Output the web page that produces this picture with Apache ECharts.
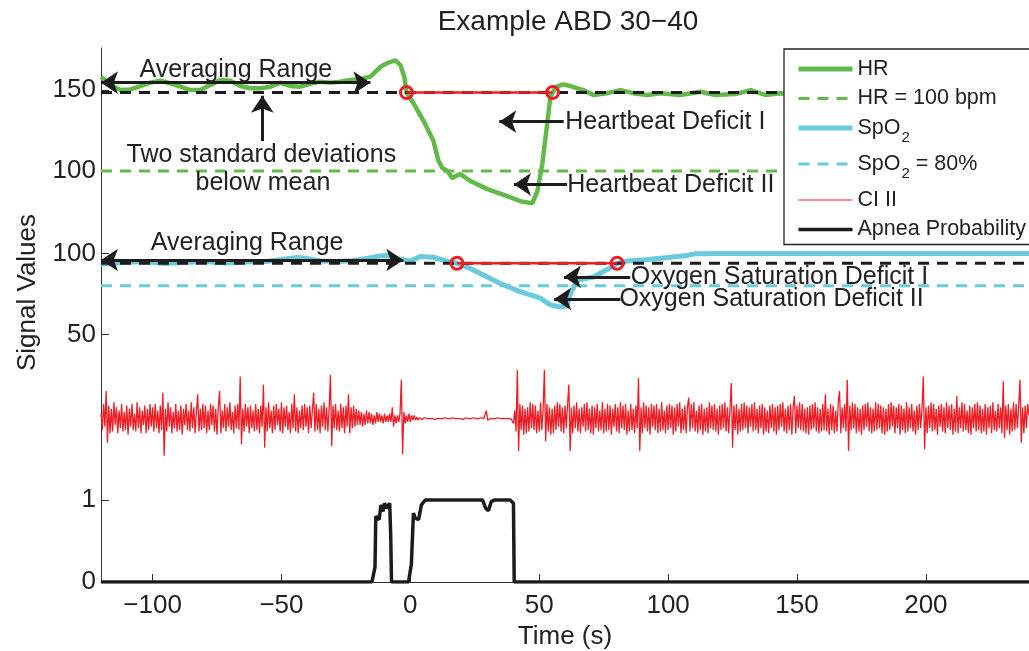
<!DOCTYPE html>
<html><head><meta charset="utf-8">
<script src="https://cdn.jsdelivr.net/npm/echarts@6/dist/echarts.min.js"></script>
<style>html,body{margin:0;padding:0;background:#fff}#c{width:1029px;height:651px}</style>
</head><body><div id="c"></div>
<script>
const FONT = "'Liberation Sans', Arial, Helvetica, sans-serif";

// ---- Heart rate (bpm) ----
const hrTime = [-120,-116.4,-112.5,-108.6,-104.7,-100.9,-97,-93.1,-89.2,-85.3,-81.5,-77.6,-73.7,-69.8,-65.9,-62.1,-58.2,-54.3,-50.4,-46.5,-42.7,-38.8,-34.9,-31,-27.2,-23.3,-19.4,-15.5,-11.6,-8.5,-5.8,-3.9,-2.3,-1.5,1.2,5,8.9,10.9,12.4,14.4,16.3,17.8,19.4,23.3,29.9,37.6,42.7,47.3,49.3,51.2,53.1,54.3,55.2,56.6,59.3,62.1,67.1,71,76.4,81.5,86.5,91.9,97,104.7,112.5,118.3,126,132,137.7,143.5,150,165,180,195,210,225,240];
const hrValue = [158.3,153.1,150,150.4,152.5,154.6,155.8,154.2,152.1,150,150,153.1,156.3,155.8,152.5,151.1,151.1,152.1,154.6,152.5,152.1,153.8,155.2,154.6,155.2,156.3,156.7,158.3,164.4,167,168.3,165.6,158,148.5,141.9,131.3,118.8,106.3,101.9,100,95.6,97,98.1,93.8,88.8,84.4,81.3,80,87.5,104.4,129.4,145.6,148.5,152,153.5,152.5,150,146.9,148.1,150,148.1,146.9,148,147,149,147,147.5,150,147,148,147.5,149,147,148.5,147.5,149,148];

// ---- SpO2 (%) ----
const spo2Time = [-120,-112,-104,-96,-88,-80,-72,-64,-56,-50,-44,-40,-35,-28,-22,-17,-12,-9,-5,0,3.9,8.9,14.2,18.1,22,27.2,34.9,42.7,50.4,54.3,58.2,60.8,62.1,64.7,71,76.3,80.2,84.1,91.2,100,107.1,110.4,120,150,180,210,240];
const spo2Value = [93.3,94.5,95.1,93.9,94.5,95.1,94.2,94.8,95.1,96.3,97.6,97,95.4,95.1,95.7,97,98.5,98.8,96.8,95.3,98.2,97.7,95.3,94,91.6,87.6,81.5,76.4,72.4,68.3,66.9,67.7,75.4,83.5,85.5,90.1,93.8,95.3,96.2,97.6,98.8,99.8,100,100,100,100,100];

// ---- Apnea probability ----
const apneaTime = [-120,-14.9,-13.7,-13.4,-12.1,-11.4,-10.6,-10,-9.1,-8,-7.6,-7.3,-0.7,0.4,1.2,1.9,3.2,4.3,5.8,28,29.2,30.3,31.4,32.6,38.7,40,40.3,240];
const apneaValue = [0,0,0.18,0.8,0.76,0.94,0.86,0.96,0.9,0.96,0.55,0,0,0.22,0.84,0.78,0.76,0.94,1,1,0.9,0.87,0.98,1,1,0.96,0,0];

// ---- ECG (CI II), deviation from its baseline, one value every 0.5 s from -120 s ----
const ecgStart = -120, ecgStep = 0.5;
const ecgValue = [
3,-7,9,-5,17,-15,8,-9,6,-8,10,-4,7,-9,5,-6,9,-8,4,-7,8,-10,6,-5,9,-7,3,-8,10,-6,7,-9,5,-4,8,-9,6,-7,9,-5,
7,-8,9,-6,5,-9,8,-7,16,-23,6,-8,10,-5,7,-9,4,-6,9,-8,5,-7,8,-10,6,-4,9,-7,5,-8,10,-6,7,-9,4,15,-8,6,-7,9,
-6,8,-9,5,-7,9,-4,8,-8,6,-10,7,17,-9,5,-6,9,-8,7,-5,10,-7,4,-9,8,-6,9,-7,26,-16,6,-8,9,-5,7,-9,8,-6,5,-8,
9,-7,6,-9,8,-5,21,-18,7,-8,10,-6,5,-9,8,-7,9,-4,6,-8,10,-9,7,-5,8,-7,4,-9,9,-6,15,-8,7,-9,5,-6,8,-7,9,-5,
7,-9,8,-6,5,16,-8,9,-7,6,-9,8,-5,10,-7,7,-8,6,27,-17,8,-6,9,-7,5,-8,9,-6,7,-9,8,-5,15,-9,7,-6,8,-5,6,-4,
5,-4,4,-5,3,-4,5,-3,4,-3,3,-4,2,-3,4,-2,3,-2,2,-3,3,-2,2,-2,3,-2,7,-5,2,-3,2,-2,3,24,-22,4,-3,2,-2,3,
-2,2,-1,2,-1,1,-1,0.5,0,-0.5,0,0.5,0,0,-0.5,0,0.5,0,0,-0.5,0,0,0.5,0,-0.5,0,0,0.5,0,0,-0.5,0,0,0.5,0,0,-0.5,0,0.5,0,
0,-0.5,0,0.5,0,0,-0.5,0,0,0.5,0,0,-0.5,0,0,0.5,0,0,1,5,-1,0,0,0.5,0,-0.5,0,0,0.5,0,0,-0.5,0,0.5,0,-0.5,0,0.5,0,1,
-3,5,-8,30,-20,9,-7,8,-10,6,-9,7,-8,10,-6,9,-7,8,-9,5,-8,10,-7,6,30,-14,9,-8,7,-10,6,-9,8,-7,10,-5,9,-8,7,-9,
8,-6,9,21,-20,7,-9,8,-6,10,-8,6,-9,7,-5,9,-8,10,-7,6,-9,8,-10,7,-6,9,-8,5,-7,10,-9,6,-8,9,-7,8,-10,6,-5,9,
-8,7,-9,10,-6,8,-7,9,-10,5,-8,9,-7,6,-9,8,-6,25,-20,7,-9,10,-6,8,-8,7,-10,9,-5,8,-7,9,-9,6,-8,10,-7,5,-9,8,
-7,9,-6,8,-10,7,-8,9,-5,10,-9,6,-7,8,-9,7,13,-8,9,-6,10,-8,5,-9,8,-7,9,-10,6,-8,7,-9,10,-6,8,-7,9,-8,6,-10,
8,-7,9,-6,10,-8,7,-9,6,22,-18,8,-7,9,-10,6,-8,9,-7,10,-6,8,-9,7,-5,9,-8,10,-7,6,-9,8,-6,9,-10,7,-8,5,-9,8,
-6,9,-8,7,-10,8,-7,9,-5,10,-8,6,-9,8,-7,9,-10,7,14,-9,8,-6,10,-7,9,-8,6,-9,7,-10,8,-7,9,-6,10,-8,7,-9,6,-8,
9,-7,15,-8,6,-10,9,-7,8,-9,5,-8,10,17,-9,7,-6,9,-8,24,-20,8,-7,10,-6,9,-9,7,-8,6,-10,8,-7,9,-5,10,-8,7,-9,6,
-8,10,-7,9,-6,8,-9,7,-10,6,-8,9,-7,10,-5,8,-9,7,-6,9,-10,8,-7,6,-9,10,-8,7,-6,9,-8,5,-10,8,-7,9,-6,7,26,-19,
7,-9,8,-6,10,-8,9,-7,6,-10,8,-5,9,-8,7,-9,10,-6,8,-7,9,-10,6,-8,14,-9,7,-6,10,-8,9,-7,5,-9,8,-10,7,-6,9,-8,
10,-7,8,-9,6,-8,9,-10,7,-6,8,-9,10,-7,5,-8,9,-6,7,-9,23,-12,8,-7,9,-10,6,-8,10,-7,9,-6,8,24,-15,7,-9,8,-6,9,
2];

// ---- thresholds & deficit crossings ----
const hrThreshold = 148.5, hrLimit = 100;
const spo2Threshold = 94, spo2Limit = 80;
const hrCrossTime = [-1.5, 55.2];
const spo2CrossTime = [18.1, 80.2];

// ---- stacking of signals on a single "Signal Values" axis ----
const HR_OFF = 154, SPO2_OFF = 103, ECG_OFF = 101, APNEA_SCALE = 50.7;
const yMin = 0, yMax = 330;
const xMin = -120, xMax = 240;
const xTicks = [-100, -50, 0, 50, 100, 150, 200];
const yTickPos = [0 * APNEA_SCALE, 1 * APNEA_SCALE, 50 + SPO2_OFF, 100 + SPO2_OFF, 100 + HR_OFF, 150 + HR_OFF];
const yTickText = ['0', '1', '50', '100', '100', '150'];

// ---- annotations (plot units) ----
const doubleArrows = [
  [[-120, 308.6], [-15.5, 308.6]],
  [[-120, 199], [-2.7, 199]]
];
const singleArrows = [
  [[-57.4, 272.6], [-57.4, 300.5]],
  [[59.5, 284.5], [34.5, 284.5]],
  [[60.8, 245.7], [40.2, 245.7]],
  [[85.3, 188.6], [59.6, 188.6]],
  [[81.5, 174.9], [55.8, 174.9]]
];
const noteText = ['Averaging Range', 'Two standard deviations', 'below mean', 'Heartbeat Deficit I', 'Heartbeat Deficit II', 'Averaging Range', 'Oxygen Saturation Deficit I', 'Oxygen Saturation Deficit II'];
const notePos = [[-67.7, 316.4], [-57.8, 263.9], [-57.2, 246.6], [60.1, 284.5], [60.9, 245.4], [-63.3, 209.3], [85.5, 188.6], [81.1, 174.6]];
const noteAlign = ['center', 'center', 'center', 'left', 'left', 'center', 'left', 'left'];

// ---- legend entries ----
const legendNames = ['HR', 'HR = 100 bpm', 'SpO2', 'SpO2 = 80%', 'CI II', 'Apnea Probability'];
const legendWidths = [5, 3, 5, 3, 1, 3.5];

const GREEN = '#63B947', CYAN = '#69CADB', RED = '#EE1D24', BLACK = '#1c1c1c';

const zip = (t, v, f) => t.map((x, i) => [x, f(v[i])]);
const flat = (v) => [[xMin, v], [xMax, v]];

const option = {
  animation: false,
  backgroundColor: '#fff',
  title: {
    text: 'Example ABD 30\u221240', left: 563, top: 3, textAlign: 'center',
    textStyle: { fontFamily: FONT, fontSize: 28, fontWeight: 'normal', color: '#222' }
  },
  grid: { left: 101, right: 0, top: 48, bottom: 69, containLabel: false, outerBoundsMode: 'none' },
  xAxis: {
    type: 'value', min: xMin, max: xMax,
    name: 'Time (s)', nameLocation: 'middle', nameGap: 30,
    nameTextStyle: { fontFamily: FONT, fontSize: 26, color: '#222' },
    axisLine: { onZero: false, lineStyle: { color: '#333', width: 1 } },
    axisTick: { show: true, inside: true, length: 8, customValues: xTicks, lineStyle: { color: '#333', width: 1 } },
    axisLabel: { customValues: xTicks, margin: 11, fontFamily: FONT, fontSize: 26, color: '#222',
      formatter: v => (v < 0 ? '\u2212' + Math.abs(v) : String(v)) },
    splitLine: { show: false }
  },
  yAxis: {
    type: 'value', min: yMin, max: yMax,
    name: 'Signal Values', nameLocation: 'middle', nameGap: 60,
    nameTextStyle: { fontFamily: FONT, fontSize: 26, color: '#222', padding: [0, 0, 0, 45] },
    axisLine: { show: true, onZero: false, lineStyle: { color: '#333', width: 1 } },
    axisTick: { show: true, inside: true, length: 8, customValues: yTickPos, lineStyle: { color: '#333' } },
    axisLabel: { customValues: yTickPos, margin: 5, fontFamily: FONT, fontSize: 26, color: '#222',
      formatter: v => { const i = yTickPos.findIndex(p => Math.abs(p - v) < 0.01); return i >= 0 ? yTickText[i] : ''; } },
    splitLine: { show: false }
  },
  legend: {
    orient: 'vertical', left: 784, top: 49, padding: [9, 30, 4, 12], itemGap: 7.5,
    itemWidth: 54, itemHeight: 14,
    backgroundColor: '#fff', borderColor: '#222', borderWidth: 1.3, borderRadius: 0,
    data: legendNames.map((n, i) => ({ name: n, lineStyle: { width: legendWidths[i] }, itemStyle: { opacity: 0, borderWidth: 0 } })),
    formatter: n => n.replace('SpO2', 'SpO{sub|2}'),
    textStyle: { fontFamily: FONT, fontSize: 21.5, color: '#222',
      rich: { sub: { fontFamily: FONT, fontSize: 15, color: '#222', padding: [20, 0, 0, 1] } } },
    z: 10
  },
  series: [
    { name: 'CI II', type: 'line', symbol: 'none', z: 1, sampling: null,
      lineStyle: { color: RED, width: 1.3 }, itemStyle: { color: RED },
      data: ecgValue.map((v, i) => [ecgStart + i * ecgStep, v + ECG_OFF]) },
    { name: 'HR', type: 'line', symbol: 'none', z: 2,
      lineStyle: { color: GREEN, width: 4.5 }, itemStyle: { color: GREEN },
      data: zip(hrTime, hrValue, v => v + HR_OFF) },
    { name: 'HR = 100 bpm', type: 'line', symbol: 'none', z: 2,
      lineStyle: { color: GREEN, width: 3, type: [11, 8] }, itemStyle: { color: GREEN },
      data: flat(hrLimit + HR_OFF) },
    { name: 'SpO2', type: 'line', symbol: 'none', z: 2,
      lineStyle: { color: CYAN, width: 5 }, itemStyle: { color: CYAN },
      data: zip(spo2Time, spo2Value, v => v + SPO2_OFF) },
    { name: 'SpO2 = 80%', type: 'line', symbol: 'none', z: 2,
      lineStyle: { color: CYAN, width: 3, type: [11, 8] }, itemStyle: { color: CYAN },
      data: flat(spo2Limit + SPO2_OFF) },
    { name: 'Apnea Probability', type: 'line', symbol: 'none', z: 3,
      lineStyle: { color: BLACK, width: 3.5 }, itemStyle: { color: BLACK },
      data: zip(apneaTime, apneaValue, v => v * APNEA_SCALE) },
    { name: 'hrMean', type: 'line', symbol: 'none', z: 4,
      lineStyle: { color: BLACK, width: 3, type: [11, 8] },
      data: flat(hrThreshold + HR_OFF) },
    { name: 'spo2Mean', type: 'line', symbol: 'none', z: 4,
      lineStyle: { color: BLACK, width: 3, type: [11, 8] },
      data: flat(spo2Threshold + SPO2_OFF) },
    { name: 'hrDeficit', type: 'line', z: 5, symbol: 'circle', symbolSize: 12, showAllSymbol: true,
      lineStyle: { color: RED, width: 2.5 },
      itemStyle: { color: 'rgba(0,0,0,0)', borderColor: RED, borderWidth: 3 },
      data: hrCrossTime.map(t => [t, hrThreshold + HR_OFF]) },
    { name: 'spo2Deficit', type: 'line', z: 5, symbol: 'circle', symbolSize: 12, showAllSymbol: true,
      lineStyle: { color: RED, width: 2.5 },
      itemStyle: { color: 'rgba(0,0,0,0)', borderColor: RED, borderWidth: 3 },
      data: spo2CrossTime.map(t => [t, spo2Threshold + SPO2_OFF]) },
    { name: 'arrows2', type: 'lines', coordinateSystem: 'cartesian2d', z: 6, silent: true,
      symbol: ['arrow', 'arrow'], symbolSize: 17,
      lineStyle: { color: BLACK, width: 3, opacity: 1, curveness: 0 },
      data: doubleArrows.map(c => ({ coords: c })) },
    { name: 'arrows1', type: 'lines', coordinateSystem: 'cartesian2d', z: 6, silent: true,
      symbol: ['none', 'arrow'], symbolSize: 17,
      lineStyle: { color: BLACK, width: 3, opacity: 1, curveness: 0 },
      data: singleArrows.map(c => ({ coords: c })) }
  ]
};

const chart = echarts.init(document.getElementById('c'), null, { renderer: 'canvas' });
chart.setOption(option);
const notes = noteText.map((txt, i) => {
  const p = chart.convertToPixel({ gridIndex: 0 }, notePos[i]);
  return { type: 'text', x: p[0], y: p[1], z: 20, silent: true,
    style: { text: txt, fontFamily: FONT, fontSize: 25, fill: '#222', align: noteAlign[i], verticalAlign: 'middle' } };
});
chart.setOption({ graphic: notes });
</script>
</body></html>
